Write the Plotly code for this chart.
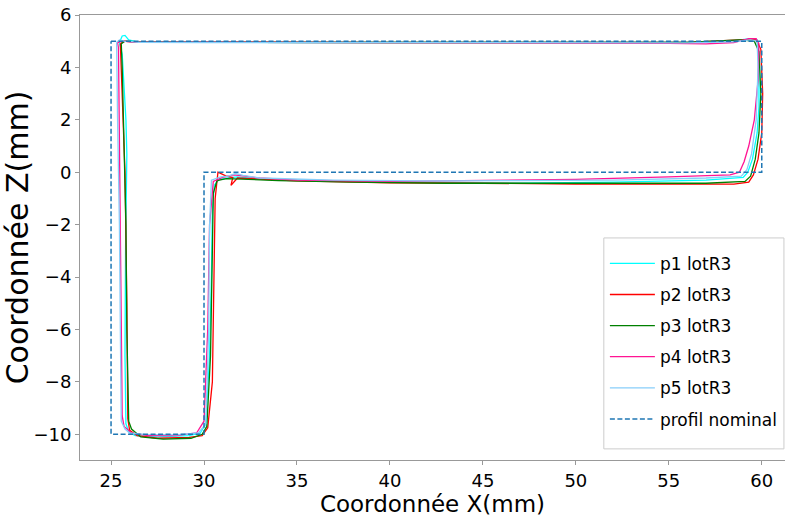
import plotly.graph_objects as go

# ---- data ----
p1_x = [25.45, 25.6, 25.75, 25.95, 26.4, 28, 35, 45, 52, 56, 58.5, 59.4, 59.75, 59.85, 59.85, 59.75, 59.5, 59.25, 59.0, 57, 52, 47, 42, 37, 33, 31.8, 31.3, 30.8, 30.55, 30.45, 30.4, 30.3, 30.1, 29.8, 29.2, 27.5, 26.3, 25.95, 25.8, 25.75, 25.78, 25.85, 25.8, 25.7, 25.6, 25.45]
p1_z = [4.95, 5.2, 5.22, 5.05, 4.97, 4.96, 4.95, 4.95, 4.94, 4.95, 5.02, 5.1, 5.05, 4.5, 2.5, 1.5, 0.5, 0.0, -0.2, -0.3, -0.38, -0.42, -0.38, -0.33, -0.26, -0.18, -0.22, -0.28, -0.5, -1.5, -4, -7, -9.6, -9.95, -10.05, -10.1, -10.05, -9.9, -9.6, -7, -3, 0.7, 2, 3.5, 4.5, 4.95]

p2_x = [25.5, 25.7, 26.2, 30, 40, 50, 56, 58.8, 59.7, 59.95, 60.05, 60.0, 59.8, 59.55, 59.3, 58.5, 55, 50, 45, 40, 35, 32.5, 31.8, 31.45, 31.55, 31.2, 30.75, 30.6, 30.55, 30.45, 30.2, 29.9, 29.2, 27.5, 26.4, 26.0, 25.9, 25.85, 25.75, 25.6, 25.5]
p2_z = [4.9, 5.0, 4.97, 4.96, 4.95, 4.95, 4.95, 5.05, 5.05, 4.7, 3.0, 1.5, 0.5, -0.1, -0.38, -0.45, -0.45, -0.45, -0.42, -0.4, -0.33, -0.25, -0.22, -0.5, -0.2, -0.15, 0.0, -1.0, -4, -8, -9.75, -10.05, -10.12, -10.15, -10.05, -9.85, -9.4, -5, 0, 3, 4.9]

p3_x = [25.55, 25.75, 26.3, 30, 40, 50, 56, 58.8, 59.6, 59.85, 59.95, 59.85, 59.65, 59.4, 59.1, 57, 53, 48, 43, 38, 34, 32, 31.2, 30.7, 30.5, 30.45, 30.35, 30.15, 29.9, 29.3, 27.8, 26.6, 26.1, 25.95, 25.85, 25.8, 25.7, 25.6, 25.55]
p3_z = [4.9, 5.0, 4.98, 4.96, 4.95, 4.95, 4.95, 5.05, 5.0, 4.6, 3.0, 1.5, 0.5, -0.15, -0.35, -0.42, -0.42, -0.43, -0.42, -0.38, -0.32, -0.26, -0.24, -0.32, -0.8, -3, -7, -9.7, -10.0, -10.15, -10.18, -10.1, -9.8, -9.5, -6, -2, 1.5, 4, 4.9]

p4_x = [25.4, 25.35, 25.6, 26.2, 30, 40, 50, 55, 57, 58.5, 59.3, 59.7, 59.85, 59.8, 59.6, 59.3, 59.05, 58.8, 58.3, 55, 50, 45, 40, 35, 33, 32.2, 31.6, 31.0, 30.5, 30.3, 30.2, 30.0, 29.6, 28.5, 27, 26.1, 25.7, 25.6, 25.55, 25.5, 25.45, 25.4]
p4_z = [4.75, 4.95, 5.0, 4.97, 4.96, 4.95, 4.94, 4.92, 4.9, 4.95, 5.1, 5.1, 4.9, 3.5, 2.0, 1.0, 0.4, 0.0, -0.1, -0.18, -0.27, -0.32, -0.35, -0.3, -0.22, -0.15, -0.1, -0.2, -0.35, -2, -6, -9.5, -9.95, -10.05, -10.05, -9.95, -9.7, -9.3, -6, -2, 2, 4.75]

p5_x = [25.3, 25.45, 25.7, 26.5, 30, 40, 50, 56, 58.5, 59.4, 59.75, 59.8, 59.7, 59.45, 59.2, 58.9, 57, 52, 47, 42, 37, 33, 32.1, 31.7, 31.3, 30.9, 30.4, 30.3, 30.25, 30.1, 29.7, 28.5, 26.8, 26.0, 25.75, 25.55, 25.5, 25.45, 25.35, 25.3]
p5_z = [4.95, 5.05, 5.0, 4.96, 4.95, 4.95, 4.94, 4.94, 4.98, 5.05, 5.0, 4.0, 2.0, 0.7, 0.1, -0.15, -0.22, -0.3, -0.32, -0.33, -0.3, -0.22, -0.12, -0.05, -0.15, -0.18, -0.3, -2.0, -6, -9.6, -9.95, -10.02, -10.0, -9.95, -9.8, -9.5, -6, -2, 2, 4.95]

nominal_x = [25, 60, 60, 30, 30, 25, 25]
nominal_z = [5, 5, 0, 0, -10, -10, 5]

series_names = ["p1 lotR3", "p2 lotR3", "p3 lotR3", "p4 lotR3", "p5 lotR3"]
series_colors = ["#00ffff", "#ff0000", "#008000", "#ff1493", "#87cefa"]
series_x = [p1_x, p2_x, p3_x, p4_x, p5_x]
series_z = [p1_z, p2_z, p3_z, p4_z, p5_z]

x_ticks = [25, 30, 35, 40, 45, 50, 55, 60]
z_ticks = [-10, -8, -6, -4, -2, 0, 2, 4, 6]

FONT = "DejaVu Sans"

fig = go.Figure()
for i, (name, col, xs, zs) in enumerate(zip(series_names, series_colors, series_x, series_z)):
    fig.add_trace(go.Scatter(x=xs, y=zs, mode="lines", name=name, legendgroup=f"g{i}",
                             line=dict(color=col, width=1.3)))
fig.add_trace(go.Scatter(x=nominal_x, y=nominal_z, mode="lines", name="profil nominal",
                         legendgroup="nom",
                         line=dict(color="#1f77b4", width=1.5, dash="5px,2.5px")))

axis_common = dict(showline=True, linecolor="#999999", linewidth=1, mirror=True,
                   ticks="outside", ticklen=4, tickcolor="#999999", showgrid=False,
                   zeroline=False, automargin=False,
                   tickfont=dict(family=FONT, size=18, color="black"))

# legend frame (drawn as a box behind the legend entries)
fig.add_shape(type="rect", xref="paper", yref="paper",
              x0=0.743, x1=0.9985, y0=0.025, y1=0.499,
              line=dict(color="#cccccc", width=1), fillcolor="white", layer="below")

fig.update_layout(
    width=785, height=519,
    margin=dict(l=80, r=0, t=15, b=59),
    plot_bgcolor="white", paper_bgcolor="white",
    xaxis=dict(range=[23.33, 61.25], tickvals=x_ticks,
               title=dict(text="Coordonnée X(mm)", standoff=1,
                          font=dict(family=FONT, size=23, color="black")),
               **axis_common),
    yaxis=dict(range=[-10.98, 6.0], tickvals=z_ticks,
               title=dict(text="Coordonnée Z(mm)", standoff=4,
                          font=dict(family=FONT, size=30, color="black")),
               **axis_common),
    legend=dict(x=0.997, y=0.052, xanchor="right", yanchor="bottom",
                bgcolor="rgba(0,0,0,0)", borderwidth=0,
                font=dict(family=FONT, size=17, color="black"),
                itemwidth=45, tracegroupgap=6),
    showlegend=True,
)

fig.write_html("out.html", config={"displayModeBar": False},
               post_script="document.body.style.margin='0';document.body.style.padding='0';")
